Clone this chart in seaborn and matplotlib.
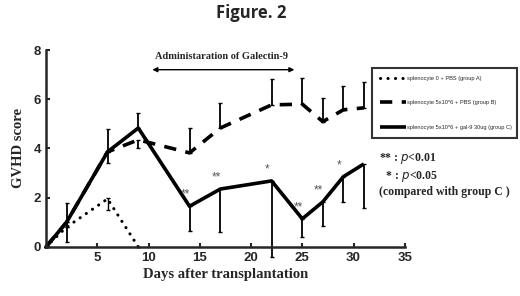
import numpy as np
import pandas as pd
import matplotlib
matplotlib.use("Agg")
import matplotlib.pyplot as plt
import seaborn as sns

# data
days_a = [0, 2, 6, 9]
score_a = [0, 0.8, 1.95, 0]

days = [0, 2, 6, 9, 14, 17, 22, 25, 27, 29, 31]
score_b = [0, 1.0, 3.86, 4.35, 3.82, 4.83, 5.77, 5.8, 5.09, 5.57, 5.65]
score_c = [0, 1.0, 3.86, 4.83, 1.65, 2.35, 2.68, 1.14, 1.83, 2.85, 3.37]

# error bars (lower, upper)
err_a_lo = [0, 0, 0.45, 0]
err_a_hi = [0, 0, 0.05, 0]
err_b_lo = [0, 0, 0, 0.35, 0, 0, 0, 0, 0, 0, 0]
err_b_hi = [0, 0, 0, 0, 1.0, 1.0, 1.05, 1.05, 0.95, 0.95, 1.05]
err_c_lo = [0, 0.8, 0.46, 0, 1.0, 1.75, 3.1, 0.75, 0.98, 1.02, 1.8]
err_c_hi = [0, 0.8, 0.94, 0.6, 0, 0, 0, 0, 0, 0, 0]

sig_days = [14, 17, 22, 25, 27, 29]
sig_marks = ["**", "**", "*", "**", "**", "*"]

labels = ["splenocyte 0 + PBS (group A)",
          "splenocyte 5x10*6 + PBS (group B)",
          "splenocyte 5x10*6 + gal-9 30ug (group C)"]

sns.set_style("ticks")
plt.rcParams['font.family'] = ['Liberation Sans', 'DejaVu Sans']

df_a = pd.DataFrame({"day": days_a, "score": score_a})
df_b = pd.DataFrame({"day": days, "score": score_b})
df_c = pd.DataFrame({"day": days, "score": score_c})

fig = plt.figure(figsize=(5.2, 2.96), dpi=100)
ax = fig.add_axes([0.0885, 0.166, 0.69, 0.665])

sns.lineplot(data=df_a, x="day", y="score", ax=ax, color="black", lw=2.2,
             linestyle=(0, (0.05, 2.4)), label=labels[0])
sns.lineplot(data=df_b, x="day", y="score", ax=ax, color="black", lw=2.6,
             linestyle=(0, (3.4, 2.6)), label=labels[1])
sns.lineplot(data=df_c, x="day", y="score", ax=ax, color="black", lw=2.6,
             label=labels[2])
for c in ax.lines:
    c.set_solid_capstyle("butt")
    c.set_dash_capstyle("round" if c.get_label() == labels[0] else "butt")

ax.errorbar(days_a, score_a, yerr=[err_a_lo, err_a_hi], fmt="none",
            ecolor="black", elinewidth=1, capsize=1.5)
ax.errorbar(days, score_b, yerr=[err_b_lo, err_b_hi], fmt="none",
            ecolor="black", elinewidth=1.3, capsize=1.5)
ax.errorbar(days, score_c, yerr=[err_c_lo, err_c_hi], fmt="none",
            ecolor="black", elinewidth=1.3, capsize=1.5)

for d, m in zip(sig_days, sig_marks):
    y = score_c[days.index(d)]
    ax.text(d - 0.4, y + 0.22, m, ha="center", va="bottom", fontsize=8.5,
            color="#555555")

ax.set_xlim(0, 35)
ax.set_ylim(0, 8)
ax.set_xticks([5, 10, 15, 20, 25, 30, 35])
ax.set_yticks([0, 2, 4, 6, 8])
ax.tick_params(direction="in", length=3, width=1.5, labelsize=9.5)
for lab in ax.get_xticklabels() + ax.get_yticklabels():
    lab.set_fontweight("bold")
ax.spines["top"].set_visible(False)
ax.spines["right"].set_visible(False)
ax.spines["left"].set_linewidth(1.8)
ax.spines["bottom"].set_linewidth(1.8)
for art in ax.get_children():
    art.set_clip_on(False)

ax.set_xlabel("Days after transplantation", family="Liberation Serif",
              fontweight="bold", fontsize=10.5, labelpad=3)
ax.set_ylabel("GVHD score", family="Liberation Serif", fontweight="bold",
              fontsize=10.5, labelpad=6)

ax.annotate("", xy=(10.1, 7.2), xytext=(24.5, 7.2),
            arrowprops=dict(arrowstyle="<|-|>", color="black", lw=1,
                            mutation_scale=7))
ax.text(17.1, 7.75, "Administaration of Galectin-9", ha="center", va="center",
        family="Liberation Serif", fontweight="bold", fontsize=7.5)

leg = ax.legend(loc="upper left", bbox_to_anchor=(0.908, 0.909, 0.404, 0.0),
                mode="expand", fontsize=4.1, frameon=True, fancybox=False,
                edgecolor="black", handlelength=4.6, handletextpad=0.1,
                labelspacing=3.4, borderpad=1.4, borderaxespad=0)
leg.get_frame().set_linewidth(1.5)

fig.text(0.729, 0.465, "** : $\\it{p}$<0.01", family="Liberation Serif",
         fontweight="bold", fontsize=8.5, ha="left", va="center")
fig.text(0.737, 0.405, " * : $\\it{p}$<0.05", family="Liberation Serif",
         fontweight="bold", fontsize=8.5, ha="left", va="center")
fig.text(0.729, 0.35, "(compared with group C )", family="Liberation Serif",
         fontweight="bold", fontsize=8.5, ha="left", va="center")

fig.text(0.483, 0.955, "Figure. 2", family="Open Sans", fontweight="bold",
         fontsize=12, ha="center", va="center")

fig.savefig("out.png", dpi=100)
